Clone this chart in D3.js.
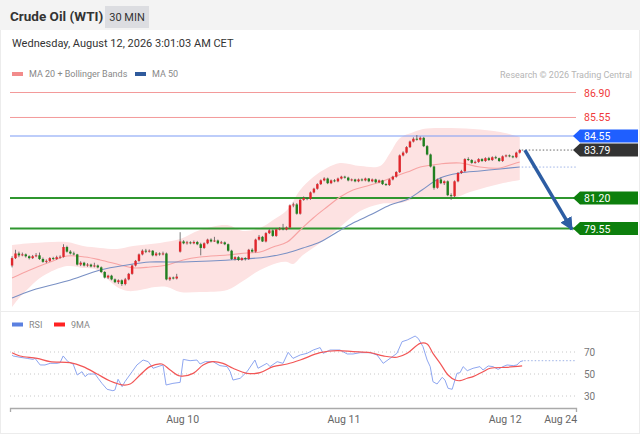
<!DOCTYPE html>
<html>
<head>
<meta charset="utf-8">
<script src="https://cdn.jsdelivr.net/npm/d3@7"></script>
<style>
body { margin: 0; background: #fff; font-family: Roboto, Arial, sans-serif; }
svg { display: block; }
</style>
</head>
<body>
<svg id="chart" width="640" height="434"></svg>
<script>
// ---- data (30 min candles, [open, high, low, close]) ----
var candles = [
  [77.55,78.05,77.45,77.95],[77.95,78.40,77.90,78.20],[78.20,78.30,78.00,78.10],[78.10,78.25,78.05,78.15],
  [78.15,78.20,77.98,78.05],[78.05,78.10,77.88,77.95],[77.95,78.12,77.90,78.05],[78.05,78.22,78.00,78.10],
  [78.10,78.25,77.85,77.90],[77.90,77.98,77.70,77.75],[77.75,77.88,77.68,77.80],[77.80,78.00,77.75,77.95],
  [77.95,78.02,77.85,77.90],[77.90,78.08,77.86,78.00],[78.00,78.10,77.92,78.02],[78.02,78.70,77.98,78.55],
  [78.55,78.62,78.25,78.30],[78.30,78.38,78.15,78.20],[78.20,78.30,78.10,78.15],[78.15,78.18,77.55,77.60],
  [77.60,77.78,77.52,77.70],[77.70,77.75,77.50,77.55],[77.55,77.68,77.48,77.60],[77.60,77.65,77.45,77.50],
  [77.50,77.70,77.45,77.55],[77.55,77.60,77.40,77.45],[77.45,77.50,77.15,77.20],[77.20,77.25,76.85,76.90],
  [76.90,77.05,76.82,77.00],[77.00,77.05,76.75,76.80],[76.80,76.85,76.60,76.65],[76.65,76.80,76.55,76.75],
  [76.75,76.80,76.45,76.55],[76.55,76.88,76.48,76.80],[76.80,77.15,76.75,77.10],[77.10,77.60,77.05,77.55],
  [77.55,77.85,77.50,77.80],[77.80,78.20,77.75,78.15],[78.15,78.42,78.10,78.35],[78.35,78.45,78.22,78.30],
  [78.30,78.42,78.25,78.35],[78.35,78.38,78.05,78.10],[78.10,78.28,78.05,78.20],[78.20,78.26,78.08,78.15],
  [78.15,78.30,78.10,78.20],[78.20,78.25,76.75,76.80],[76.80,76.95,76.72,76.90],[76.90,76.95,76.80,76.85],
  [76.85,77.10,76.80,76.95],[78.30,79.35,78.25,78.85],[78.85,78.92,78.70,78.75],[78.75,78.88,78.68,78.80],
  [78.80,78.86,78.70,78.75],[78.75,78.90,78.70,78.82],[78.82,78.88,78.65,78.70],[78.70,78.78,78.10,78.50],
  [78.50,78.80,78.45,78.75],[78.75,79.00,78.70,78.95],[78.95,79.02,78.80,78.85],[78.85,79.10,78.82,78.90],
  [78.90,78.95,78.70,78.75],[78.75,78.88,78.72,78.80],[78.80,78.85,78.65,78.70],[78.70,78.74,78.30,78.35],
  [78.35,78.40,77.85,77.90],[77.90,78.05,77.82,78.00],[78.00,78.05,77.80,77.85],[77.85,78.00,77.80,77.95],
  [77.95,78.00,77.82,77.90],[77.90,78.45,77.85,78.40],[78.40,78.48,78.25,78.30],[78.30,79.00,78.25,78.95],
  [78.95,79.20,78.90,79.10],[79.10,79.15,78.82,78.85],[78.85,79.35,78.80,79.30],[79.30,79.52,79.25,79.45],
  [79.45,79.50,79.10,79.15],[79.15,79.55,79.10,79.50],[79.50,79.62,79.45,79.55],[79.55,79.80,79.45,79.50],
  [79.50,79.66,79.45,79.60],[79.60,80.85,79.55,80.80],[80.80,80.95,80.70,80.85],[80.85,80.92,80.30,80.35],
  [80.35,81.15,80.30,81.10],[81.10,81.28,81.05,81.20],[81.20,81.25,81.08,81.15],[81.15,81.55,81.10,81.50],
  [81.50,81.75,81.45,81.70],[81.70,82.00,81.65,81.95],[81.95,82.20,81.90,82.15],[82.15,82.32,82.10,82.25],
  [82.25,82.30,81.95,82.00],[82.00,82.20,81.95,82.15],[82.15,82.22,82.05,82.10],[82.10,82.30,82.05,82.25],
  [82.25,82.40,82.20,82.35],[82.35,82.40,82.25,82.30],[82.30,82.35,82.10,82.15],[82.15,82.25,82.10,82.20],
  [82.20,82.24,82.05,82.10],[82.10,82.25,82.05,82.20],[82.20,82.26,82.10,82.15],[82.15,82.30,82.10,82.25],
  [82.25,82.28,82.05,82.10],[82.10,82.25,82.05,82.20],[82.20,82.24,82.00,82.05],[82.05,82.20,82.00,82.15],
  [82.15,82.18,81.90,81.95],[81.95,82.00,81.85,81.90],[81.90,82.25,81.85,82.20],[82.20,82.40,82.15,82.35],
  [82.35,82.65,82.30,82.60],[82.60,83.55,82.55,83.50],[83.50,83.72,83.45,83.65],[83.65,84.00,83.60,83.95],
  [83.95,84.30,83.90,84.25],[84.25,84.48,84.20,84.40],[84.40,84.60,84.30,84.35],[84.35,84.52,84.30,84.45],
  [84.45,84.50,83.95,84.00],[84.00,84.06,83.50,83.55],[83.55,83.60,82.85,82.90],[82.90,82.95,81.65,81.75],
  [81.75,82.25,81.70,82.20],[82.20,82.30,81.95,82.00],[82.00,82.15,81.90,82.10],[82.10,82.15,81.30,81.35],
  [81.35,81.45,81.10,81.30],[81.30,82.15,81.25,82.10],[82.10,82.60,82.05,82.55],[82.55,82.72,82.50,82.65],
  [82.65,83.35,82.60,83.30],[83.30,83.40,83.20,83.25],[83.25,83.30,83.05,83.10],[83.10,83.22,83.05,83.15],
  [83.15,83.35,83.10,83.30],[83.30,83.35,83.15,83.20],[83.20,83.40,83.15,83.35],[83.35,83.42,83.20,83.25],
  [83.25,83.45,83.20,83.40],[83.40,83.48,83.30,83.35],[83.35,83.38,83.15,83.20],[83.20,83.50,83.15,83.45],
  [83.45,83.55,83.40,83.50],[83.50,83.55,83.40,83.45],[83.45,83.50,83.35,83.40],[83.40,83.70,83.35,83.65],
  [83.65,83.85,83.60,83.79]
];

// indicator samples: [candle index, value]
var ma20 = [[0,76.87],[5.2,77.31],[11.1,77.74],[16,78.06],[21.3,78.01],[25.7,77.85],[31.5,77.58],[35.3,77.42],
  [40.2,77.47],[45.2,77.58],[49.9,77.85],[54.8,78.01],[62.7,78.12],[68.5,78.23],[72.3,78.28],[76.1,78.55],
  [80.2,78.82],[84,79.47],[87.8,80.12],[91.8,80.71],[95.6,81.25],[99.4,81.63],[103.5,81.85],[107.3,82.06],
  [111.1,82.33],[115.2,82.6],[119,82.87],[124.8,83.04],[130.6,83.09],[136.4,82.87],[142.3,82.82],[146.1,83.04],[148,83.14]];
var bbUpper = [[0,78.66],[6.1,78.77],[16,78.82],[20.7,78.6],[25.7,78.5],[30.6,78.44],[35.3,78.6],[43.1,78.77],
  [49,78.98],[54.8,79.47],[62.7,79.74],[67.3,79.42],[72.3,79.58],[76.1,80.01],[80.2,80.55],[84,81.63],
  [87.8,82.33],[91.8,82.82],[95.6,83.09],[101.5,82.93],[107.3,82.93],[110.2,83.63],[113.1,84.44],[116.9,84.75],
  [119.8,84.93],[124.8,84.98],[134.4,84.93],[142.3,84.77],[148,84.5]];
var bbLower = [[0,75.31],[2.3,75.85],[5.2,76.39],[9,76.98],[16,77.52],[20.7,77.42],[24.2,77.36],[27.1,76.93],
  [30.6,76.39],[33.8,76.17],[37.3,76.23],[41.7,76.39],[45.2,76.39],[49,76.12],[54.8,76.12],[62.7,76.23],
  [67.3,76.71],[72.3,77.31],[77.3,77.69],[80.2,77.74],[81.9,77.63],[84.8,78.12],[89.8,78.77],[95.6,79.63],
  [101.5,80.5],[107.3,80.88],[113.1,80.93],[119.5,81.25],[128.6,81.2],[133.5,81.52],[138.5,81.79],[143.2,82.01],[148,82.17]];
var ma50 = [[0,75.79],[6.1,76.23],[16,76.71],[25.7,77.31],[33.5,77.58],[40.2,77.74],[45.2,77.74],[49.9,77.74],
  [57.7,77.79],[67.3,77.9],[74.3,78.01],[80.2,78.23],[84.8,78.5],[89.8,78.82],[94.8,79.36],[99.4,79.85],
  [105,80.33],[110.2,80.82],[115.5,81.15],[119.5,81.63],[124.8,82.28],[130.6,82.55],[136.4,82.66],[142.3,82.77],[148,82.87]];

var rsi = [[0,67.3],[0.3,66.4],[2.3,65.2],[4.4,64.2],[6.1,63.3],[6.7,64.2],[8.2,58.2],[9.6,58.2],[11.1,59.7],
  [13.1,59.7],[14,60.3],[14.9,66.4],[16.3,61.2],[17.8,59.1],[19,49.1],[20.4,52.1],[21.3,47.6],[22.2,50],
  [24.2,50],[25.1,46.1],[26.2,41.5],[27.7,36.1],[29.4,34.8],[30,35.5],[30.9,45.2],[32.1,38.5],[32.9,43],
  [35,52.1],[36.4,58.2],[38.2,62.7],[39.7,61.2],[41.1,55.2],[43.1,57.3],[44,58.2],[44.9,40],[46.9,41.5],
  [49,42.4],[49.9,63.3],[51.9,62.1],[53.9,62.7],[54.8,59.1],[56.3,61.2],[58.6,61.2],[60.6,57.6],[62.7,56.7],
  [63.6,52.1],[64.4,44.5],[66.5,46.1],[68.5,52.1],[70.8,62.7],[71.7,55.2],[74.3,59.7],[75.2,56.7],[77.3,61.2],
  [79,59.7],[80.5,69.7],[81.9,64.2],[84,67.3],[86,68.8],[87.8,71.8],[89.8,74],[90.7,68.8],[92.7,71.8],
  [95.6,71.8],[97.7,68.2],[99.4,68.2],[101.5,69.4],[104.4,69.4],[106.4,67.3],[108.2,59.7],[110.2,64.2],
  [112.2,68.8],[113.7,79.4],[115.2,80.9],[117.5,84.5],[118.4,82.4],[119.8,74.8],[121,62.7],[121.9,56.7],
  [122.7,43],[123.9,40.9],[125.4,47],[126.2,44.5],[127.1,37],[128.3,36.1],[129.7,50.6],[130.6,51.2],
  [131.5,56.7],[132.7,53],[134.4,55.2],[136.4,56.7],[137.3,53.6],[138.8,57.3],[140.2,56.7],[141.7,54.2],
  [143.1,56.7],[144.3,58.2],[146.1,57.6],[147.2,58.2],[148.1,61.2],[149,62.1]];
var rsiMa = [[0,69.4],[2.3,66.4],[7.3,64.2],[11.1,61.2],[16.9,60.3],[20.7,56.7],[24.8,50],[28.6,43.6],
  [32.4,40],[34.4,40.9],[37.3,49.1],[40.2,56.7],[43.7,59.1],[46.1,53.6],[49,48.2],[52.8,50.6],[55.7,58.2],
  [58.3,61.2],[61.5,59.7],[64.4,55.2],[68.5,50.6],[72.3,51.2],[76.1,56.7],[80.2,59.1],[84,62.7],[89.8,69.4],
  [94.8,71.2],[99.4,70.3],[104.4,69.4],[108.2,66.4],[112.2,65.2],[115.2,68.8],[119,77.9],[121,77.3],
  [122.7,68.8],[124.8,59.7],[127.1,49.1],[129.2,44.5],[130.6,43.9],[132.7,46.1],[134.4,47.6],[137.3,52.1],
  [139.4,55.2],[144.3,56.1],[148.7,57.3]];

var resistances = [86.90, 85.55];
var pivot = 84.55;
var lastPrice = 83.79;
var supports = [81.20, 79.55];
var rsiLevels = [70, 50, 30];
var xTickIdx = [49.6, 96.6, 143.6, 159.8];
var xTickLabels = ["Aug 10", "Aug 11", "Aug 12", "Aug 24"];

// ---- layout ----
var W = 640, H = 434;
var svg = d3.select("#chart");
var x = d3.scaleLinear().domain([-0.6, 164.4]).range([10, 576]);
var y = d3.scaleLinear().domain([75.2, 87.3]).range([309, 85.1]);
var yr = d3.scaleLinear().domain([20, 90]).range([407, 330]);
var lastIdx = candles.length - 1;

// frame + header
svg.append("rect").attr("x", 0.5).attr("y", 0.5).attr("width", W - 1).attr("height", H - 1)
  .attr("fill", "#fff").attr("stroke", "#ececec");
svg.append("rect").attr("width", W).attr("height", 30).attr("fill", "#f3f3f3");
svg.append("text").attr("x", 10).attr("y", 21).attr("font-size", 13.5).attr("font-weight", "bold")
  .attr("fill", "#333").text("Crude Oil (WTI)");
svg.append("rect").attr("x", 105).attr("y", 6).attr("width", 44).attr("height", 22).attr("fill", "#dcdde1");
svg.append("text").attr("x", 127).attr("y", 21).attr("text-anchor", "middle").attr("font-size", 11)
  .attr("fill", "#333").text("30 MIN");
svg.append("text").attr("x", 12).attr("y", 47).attr("font-size", 11).attr("fill", "#333")
  .text("Wednesday, August 12, 2026 3:01:03 AM CET");
svg.append("line").attr("x1", 0).attr("x2", W).attr("y1", 311.5).attr("y2", 311.5).attr("stroke", "#ececec");

// legends
function legend(items, ly) {
  items.forEach(function (it) {
    svg.append("rect").attr("x", it[0]).attr("y", ly - 2).attr("width", 11).attr("height", 4).attr("fill", it[2]);
    svg.append("text").attr("x", it[0] + 17).attr("y", ly + 3).attr("font-size", 9).attr("fill", "#888").text(it[1]);
  });
}
legend([[12, "MA 20 + Bollinger Bands", "#f28b8b"], [135, "MA 50", "#2f5a9c"]], 74);
legend([[12, "RSI", "#5b80e0"], [54, "9MA", "#ff2222"]], 324.5);
svg.append("text").attr("x", 632).attr("y", 78).attr("text-anchor", "end").attr("font-size", 9)
  .attr("fill", "#b5b5b5").text("Research \u00a9 2026 Trading Central");

// ---- main panel ----
svg.append("clipPath").attr("id", "clipMain").append("rect")
  .attr("x", 10).attr("y", 84).attr("width", 566).attr("height", 226);
var g = svg.append("g").attr("clip-path", "url(#clipMain)");

var curve = d3.curveCatmullRom.alpha(0.5);
var line = d3.line().x(function (d) { return x(d[0]); }).y(function (d) { return y(d[1]); }).curve(curve);

// bollinger band fill
g.append("path")
  .attr("d", line(bbUpper) + "L" + line(bbLower.slice().reverse()).slice(1) + "Z")
  .attr("fill", "#fde2e2");

// level lines
resistances.forEach(function (v) {
  g.append("line").attr("x1", 10).attr("x2", 576).attr("y1", y(v)).attr("y2", y(v))
    .attr("stroke", "#f39a9a").attr("stroke-width", 1);
});
g.append("line").attr("x1", 10).attr("x2", 576).attr("y1", y(pivot)).attr("y2", y(pivot))
  .attr("stroke", "#7d9bf5").attr("stroke-width", 1.2);
supports.forEach(function (v) {
  g.append("line").attr("x1", 10).attr("x2", 576).attr("y1", y(v)).attr("y2", y(v))
    .attr("stroke", "#2f962f").attr("stroke-width", 2);
});

g.append("path").attr("d", line(ma20)).attr("fill", "none").attr("stroke", "#f7a3a3").attr("stroke-width", 1.1);
g.append("path").attr("d", line(ma50)).attr("fill", "none").attr("stroke", "#7990c4").attr("stroke-width", 1.1);

// dotted projections
g.append("line").attr("x1", x(lastIdx) + 2).attr("x2", 576).attr("y1", y(lastPrice)).attr("y2", y(lastPrice))
  .attr("stroke", "#666").attr("stroke-dasharray", "1.5,2");
g.append("line").attr("x1", x(lastIdx) + 2).attr("x2", 576)
  .attr("y1", y(ma50[ma50.length - 1][1])).attr("y2", y(ma50[ma50.length - 1][1]))
  .attr("stroke", "#9fb3e6").attr("stroke-dasharray", "1.5,2");

// candles
g.selectAll("line.wick").data(candles).join("line").attr("class", "wick")
  .attr("x1", function (d, i) { return x(i); }).attr("x2", function (d, i) { return x(i); })
  .attr("y1", function (d) { return y(d[1]); }).attr("y2", function (d) { return y(d[2]); })
  .attr("stroke", "#555").attr("stroke-width", 0.8);
g.selectAll("rect.body").data(candles).join("rect").attr("class", "body")
  .attr("x", function (d, i) { return x(i) - 1.2; }).attr("width", 2.4)
  .attr("y", function (d) { return y(Math.max(d[0], d[3])); })
  .attr("height", function (d) { return Math.max(0.8, Math.abs(y(d[0]) - y(d[3]))); })
  .attr("fill", function (d) { return d[3] >= d[0] ? "#e0262c" : "#20801f"; });

// forecast arrow
var defs = svg.append("defs");
defs.append("marker").attr("id", "head").attr("viewBox", "0 0 10 10").attr("refX", 9).attr("refY", 5)
  .attr("markerWidth", 13).attr("markerHeight", 13).attr("markerUnits", "userSpaceOnUse").attr("orient", "auto")
  .append("path").attr("d", "M0,0L10,5L0,10Z").attr("fill", "#2d5da3");
svg.append("line")
  .attr("x1", x(lastIdx + 1.5)).attr("y1", y(lastPrice))
  .attr("x2", x(163.2)).attr("y2", y(supports[1] - 0.05))
  .attr("stroke", "#2d5da3").attr("stroke-width", 3.5).attr("marker-end", "url(#head)");

// price tags
function tag(v, fill) {
  var cy = y(v);
  svg.append("path")
    .attr("d", "M573," + cy + "L580," + (cy - 6.5) + "L638," + (cy - 6.5) + "L638," + (cy + 6.5) + "L580," + (cy + 6.5) + "Z")
    .attr("fill", fill);
  svg.append("text").attr("x", 584).attr("y", cy + 4).attr("font-size", 10.5).attr("fill", "#fff").text(v.toFixed(2));
}
resistances.forEach(function (v) {
  svg.append("text").attr("x", 584).attr("y", y(v) + 4).attr("font-size", 10.5).attr("fill", "#f03a3a").text(v.toFixed(2));
});
tag(pivot, "#1f5fff");
tag(lastPrice, "#333333");
supports.forEach(function (v) { tag(v, "#0d7f0d"); });

// ---- RSI panel ----
var rline = d3.line().x(function (d) { return x(d[0]); }).y(function (d) { return yr(d[1]); });
rsiLevels.forEach(function (v) {
  svg.append("line").attr("x1", 10).attr("x2", 576).attr("y1", yr(v)).attr("y2", yr(v))
    .attr("stroke", "#c8c8c8").attr("stroke-dasharray", "1,3");
  svg.append("text").attr("x", 584).attr("y", yr(v) + 3.5).attr("font-size", 10).attr("fill", "#777").text(v);
});
svg.append("path").attr("d", rline(rsi)).attr("fill", "none").attr("stroke", "#8ea6f0").attr("stroke-width", 1);
svg.append("path").attr("d", rline.curve(curve)(rsiMa)).attr("fill", "none").attr("stroke", "#f25656").attr("stroke-width", 1.2);
var lastRsi = rsi[rsi.length - 1];
svg.append("line").attr("x1", x(lastRsi[0]) + 1).attr("x2", 576).attr("y1", yr(lastRsi[1])).attr("y2", yr(lastRsi[1]))
  .attr("stroke", "#9fb3e6").attr("stroke-dasharray", "1.5,2");

// time axis
var axis = d3.axisBottom(x).tickValues(xTickIdx)
  .tickFormat(function (d, i) { return xTickLabels[i]; }).tickSizeInner(0).tickSizeOuter(4).tickPadding(8);
var ax = svg.append("g").attr("transform", "translate(0,408)").call(axis);
ax.select(".domain").attr("stroke", "#aaa").attr("stroke-width", 1.3);
ax.selectAll("text").attr("font-size", 10.5).attr("fill", "#666").attr("font-family", "Roboto, Arial, sans-serif");
</script>
</body>
</html>
